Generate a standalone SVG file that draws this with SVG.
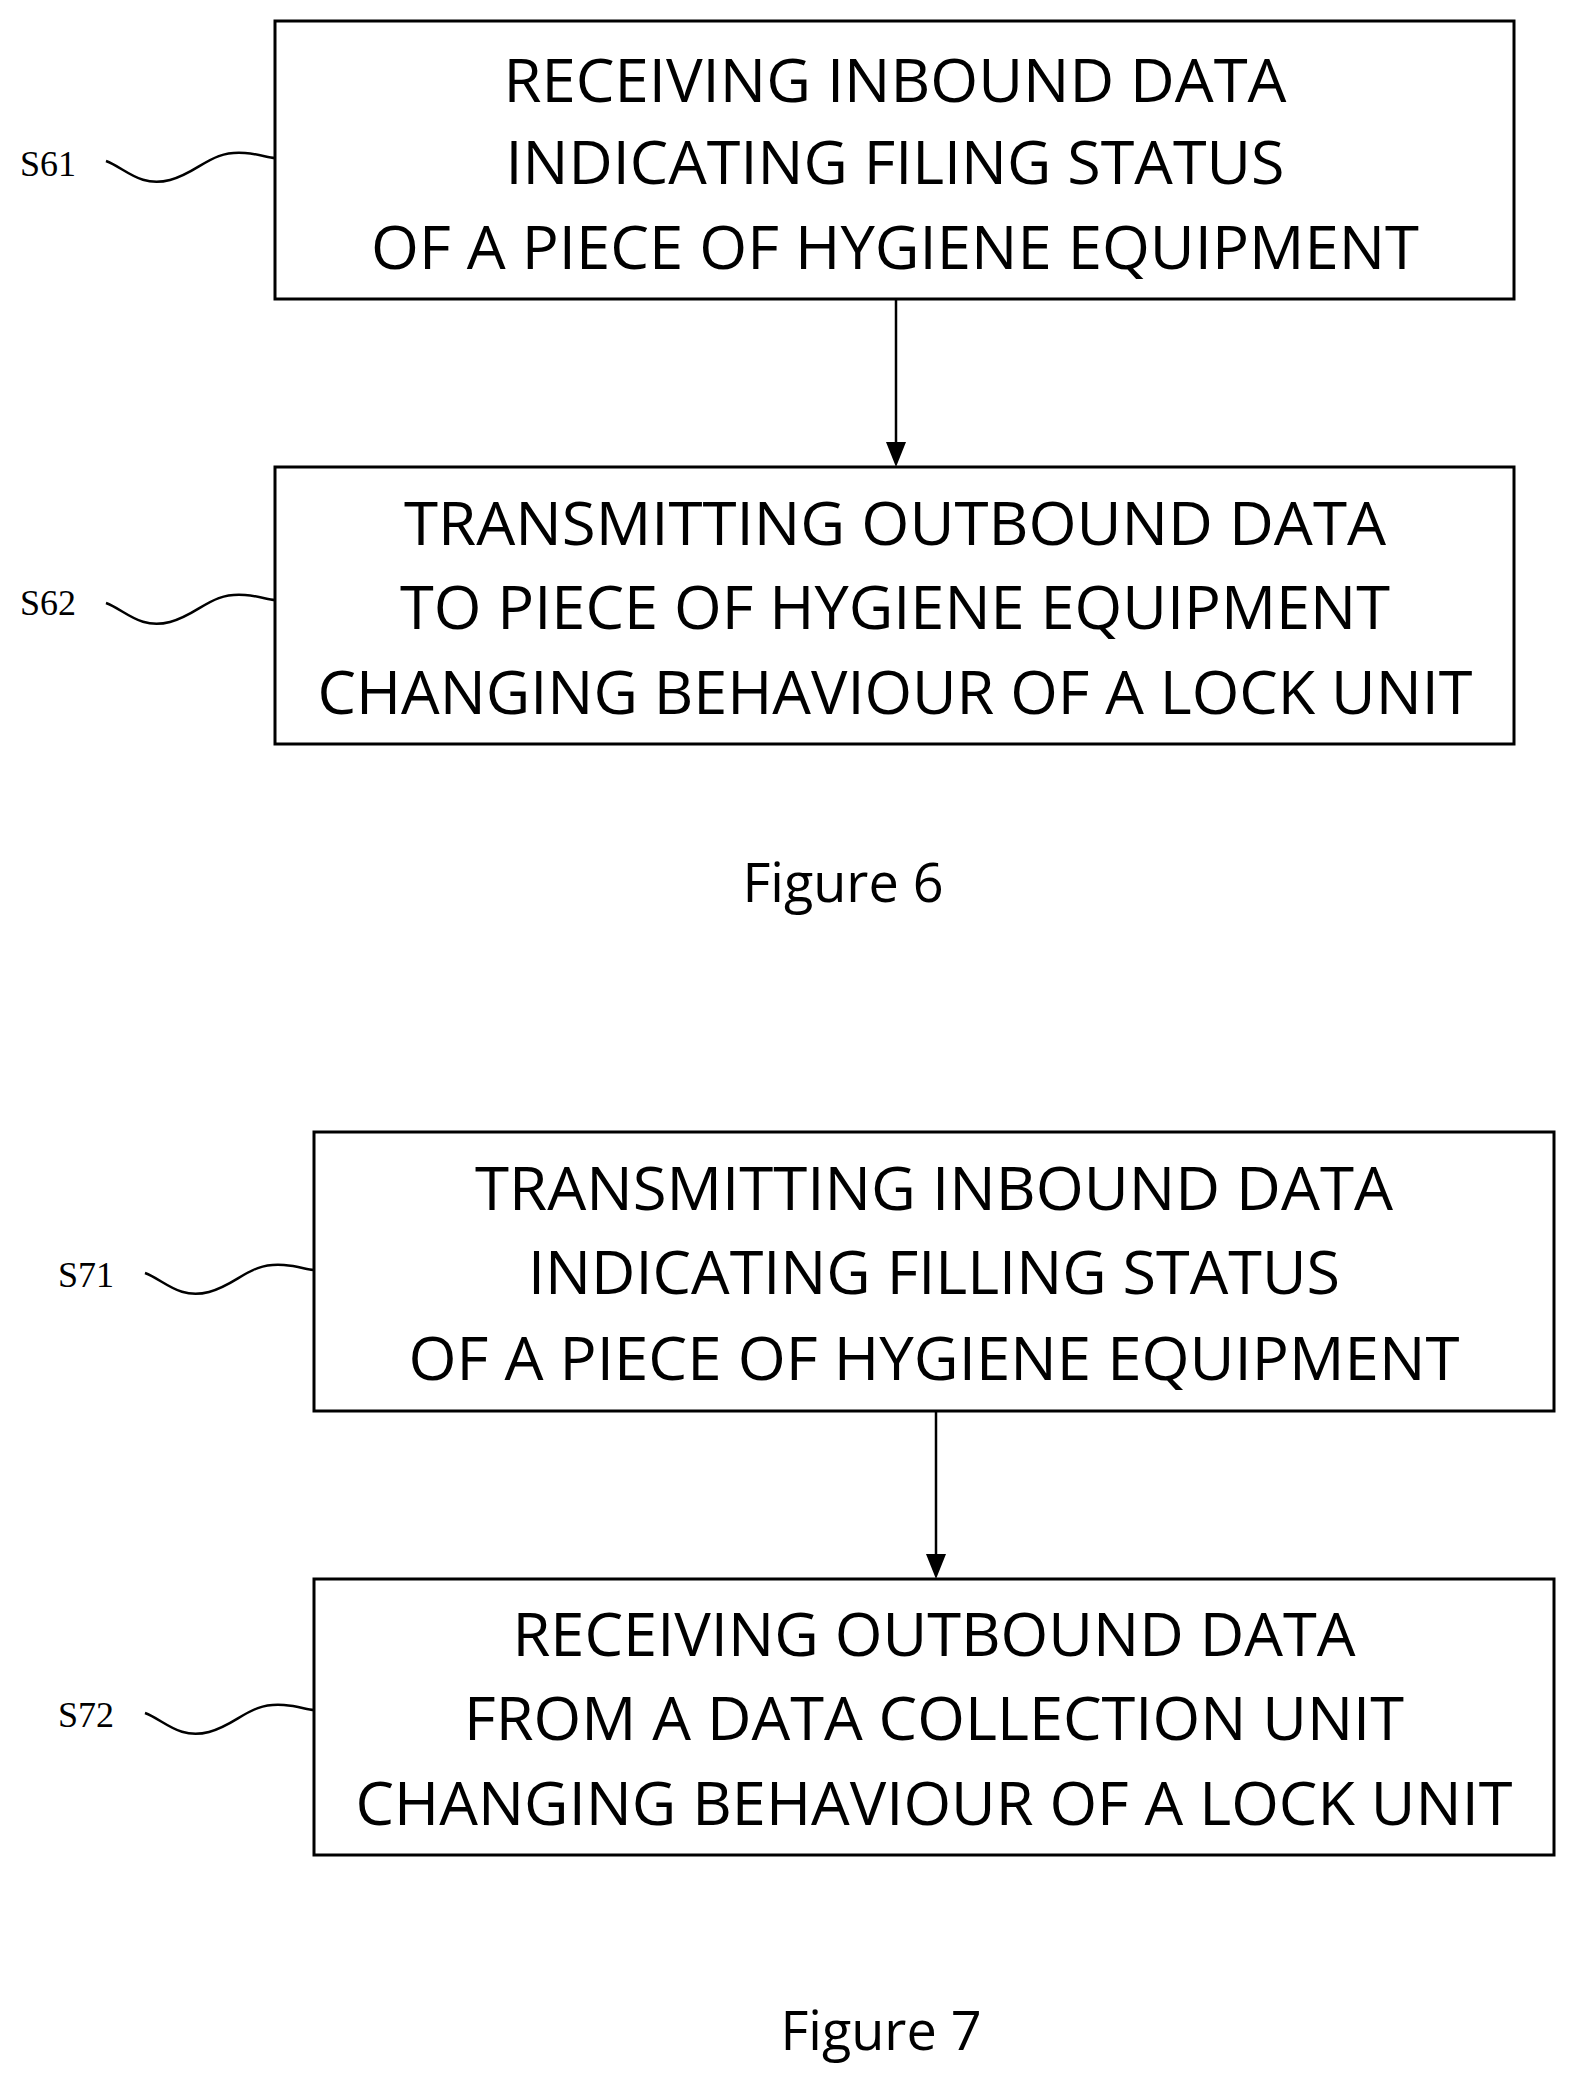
<svg xmlns="http://www.w3.org/2000/svg" width="1575" height="2079" viewBox="0 0 1575 2079">
<style>
.box{fill:#fff;stroke:#000;stroke-width:3}
.t{font-family:"Open Sans","Liberation Sans",sans-serif;font-size:60px;text-anchor:middle}
.l{font-family:"Liberation Serif",serif;font-size:36px}
.f{font-family:"Open Sans","Liberation Sans",sans-serif;font-size:54px;text-anchor:middle}
.sq{fill:none;stroke:#000;stroke-width:2.5}
</style>
<defs><marker id="a" markerWidth="12" markerHeight="14" refX="6" refY="14" orient="auto-start-reverse" markerUnits="userSpaceOnUse" viewBox="0 0 12 14"><path d="M0,0 L12,0 L6,14 Z" transform="rotate(0)"/></marker></defs>
<rect width="1575" height="2079" fill="#fff"/>
<g id="connectors">
<line x1="896" y1="299" x2="896" y2="452" stroke="#000" stroke-width="2.5"/><path d="M886,442 L906,442 L896,467 Z"/>
<line x1="936" y1="1411" x2="936" y2="1564" stroke="#000" stroke-width="2.5"/><path d="M926,1554 L946,1554 L936,1579 Z"/>
</g>
<g id="s61">
<rect class="box" x="275" y="21" width="1239" height="278"/>
<text class="t" x="895" y="102" textLength="783" lengthAdjust="spacingAndGlyphs">RECEIVING INBOUND DATA</text>
<text class="t" x="895" y="184" textLength="779" lengthAdjust="spacingAndGlyphs">INDICATING FILING STATUS</text>
<text class="t" x="895" y="269" textLength="1048" lengthAdjust="spacingAndGlyphs">OF A PIECE OF HYGIENE EQUIPMENT</text>
<text class="l" x="20" y="176">S61</text>
<path class="sq" d="M106,161 C125,168 140,188 170,180 C200,172 210,150 245,153 C260,154 268,158 275,158"/>
</g>
<g id="s62">
<rect class="box" x="275" y="467" width="1239" height="277"/>
<text class="t" x="895" y="545" textLength="982" lengthAdjust="spacingAndGlyphs">TRANSMITTING OUTBOUND DATA</text>
<text class="t" x="895" y="629" textLength="990" lengthAdjust="spacingAndGlyphs">TO PIECE OF HYGIENE EQUIPMENT</text>
<text class="t" x="895" y="714" textLength="1155" lengthAdjust="spacingAndGlyphs">CHANGING BEHAVIOUR OF A LOCK UNIT</text>
<text class="l" x="20" y="615">S62</text>
<path class="sq" d="M106,603 C125,610 140,630 170,622 C200,614 210,592 245,595 C260,596 268,600 275,600"/>
</g>
<text class="f" x="843" y="902">Figure 6</text>
<g id="s71">
<rect class="box" x="314" y="1132" width="1240" height="279"/>
<text class="t" x="934" y="1210" textLength="918" lengthAdjust="spacingAndGlyphs">TRANSMITTING INBOUND DATA</text>
<text class="t" x="934" y="1294" textLength="812" lengthAdjust="spacingAndGlyphs">INDICATING FILLING STATUS</text>
<text class="t" x="934" y="1380" textLength="1051" lengthAdjust="spacingAndGlyphs">OF A PIECE OF HYGIENE EQUIPMENT</text>
<text class="l" x="58" y="1287">S71</text>
<path class="sq" d="M145,1273 C164,1280 179,1300 209,1292 C239,1284 249,1262 284,1265 C299,1266 307,1270 314,1270"/>
</g>
<g id="s72">
<rect class="box" x="314" y="1579" width="1240" height="276"/>
<text class="t" x="934" y="1656" textLength="843" lengthAdjust="spacingAndGlyphs">RECEIVING OUTBOUND DATA</text>
<text class="t" x="934" y="1740" textLength="940" lengthAdjust="spacingAndGlyphs">FROM A DATA COLLECTION UNIT</text>
<text class="t" x="934" y="1825" textLength="1157" lengthAdjust="spacingAndGlyphs">CHANGING BEHAVIOUR OF A LOCK UNIT</text>
<text class="l" x="58" y="1727">S72</text>
<path class="sq" d="M145,1713 C164,1720 179,1740 209,1732 C239,1724 249,1702 284,1705 C299,1706 307,1710 314,1710"/>
</g>
<text class="f" x="881" y="2050">Figure 7</text>
</svg>
